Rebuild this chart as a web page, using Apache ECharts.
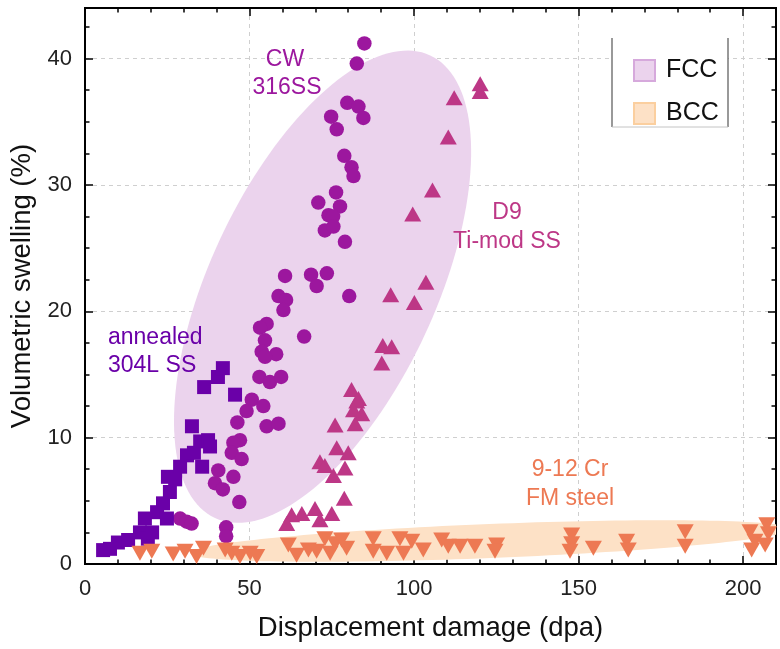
<!DOCTYPE html>
<html>
<head>
<meta charset="utf-8">
<script src="https://cdn.jsdelivr.net/npm/echarts@6/dist/echarts.min.js"></script>
<style>
  html, body { margin: 0; padding: 0; background: #fff; }
  #chart { width: 780px; height: 649px; }
</style>
</head>
<body>
<div id="chart"></div>
<script>
// Annealed 304L SS (squares)
const annealedX = [5.5, 7.6, 10.0, 13.1, 16.7, 19.1, 20.4, 18.2, 21.9, 24.9, 23.7, 25.8, 25.2, 27.4, 28.9, 31.0, 33.1, 35.6, 35.0, 37.4, 38.0, 32.5, 36.2, 40.4, 41.9, 45.6];
const annealedY = [1.1, 1.2, 1.7, 1.9, 2.5, 2.0, 2.5, 3.6, 4.1, 3.6, 4.8, 5.7, 6.9, 6.7, 7.7, 8.6, 8.8, 7.7, 9.7, 9.8, 9.3, 10.9, 14.0, 14.8, 15.5, 13.4];

// Cold-worked 316SS (circles)
const cwX = [84.9, 82.6, 79.7, 83.1, 84.6, 74.8, 76.5, 78.8, 81.0, 81.6, 76.3, 70.9, 77.5, 74.0, 75.4, 72.9, 75.5, 79.0, 60.8, 68.7, 73.5, 70.4, 80.3, 58.8, 61.1, 60.3, 55.2, 53.2, 54.7, 66.6, 53.7, 58.1, 54.7, 53.0, 56.2, 59.6, 50.7, 49.1, 54.2, 46.3, 55.2, 58.8, 47.1, 45.1, 44.6, 47.6, 40.5, 45.1, 39.5, 41.9, 46.9, 42.9, 42.9, 28.9, 30.9, 32.4];
const cwY = [41.2, 39.6, 36.5, 36.2, 35.3, 35.4, 34.4, 32.3, 31.4, 30.7, 29.4, 28.6, 28.3, 27.6, 27.5, 26.4, 26.7, 25.5, 22.8, 22.9, 23.0, 22.0, 21.2, 21.2, 20.9, 20.1, 19.0, 18.7, 17.7, 18.0, 16.8, 16.6, 16.4, 14.8, 14.4, 14.8, 13.0, 12.1, 12.5, 11.2, 10.9, 11.1, 9.8, 9.6, 8.8, 8.3, 7.4, 6.9, 6.4, 5.9, 4.9, 2.9, 2.2, 3.6, 3.35, 3.2];

// D9 Ti-modified SS (up triangles)
const d9X = [120.1, 120.1, 112.2, 110.4, 105.6, 99.6, 103.6, 92.9, 100.1, 93.2, 90.5, 90.2, 81.0, 83.1, 82.6, 84.1, 81.6, 82.1, 76.0, 76.5, 80.0, 71.4, 72.9, 79.0, 75.5, 78.8, 69.9, 75.0, 65.9, 62.8, 71.4, 61.3];
const d9Y = [38.0, 37.4, 36.9, 33.8, 29.6, 27.7, 22.3, 21.3, 20.7, 17.2, 17.3, 15.9, 13.8, 13.1, 12.9, 11.9, 12.2, 11.1, 11.0, 9.2, 8.8, 8.1, 7.8, 7.6, 7.0, 5.2, 4.4, 4.0, 4.0, 3.9, 3.5, 3.2];

// 9-12 Cr ferritic-martensitic steel (down triangles)
const fmX = [16.7, 20.3, 26.8, 30.4, 33.9, 36.0, 42.6, 44.6, 47.1, 50.2, 52.2, 61.8, 64.3, 67.9, 70.4, 72.9, 74.5, 76.0, 78.0, 79.5, 87.6, 87.6, 91.7, 95.7, 96.8, 99.3, 102.8, 108.4, 110.4, 114.0, 118.5, 125.1, 124.6, 147.9, 147.9, 147.4, 154.5, 164.6, 165.1, 182.4, 182.4, 202.1, 202.6, 203.6, 207.2, 207.7, 206.7];
const fmY = [0.85, 1.0, 0.8, 1.0, 0.6, 1.25, 1.1, 0.85, 0.6, 0.85, 0.6, 1.5, 0.7, 1.1, 1.0, 2.0, 0.85, 1.6, 1.9, 1.25, 2.0, 1.0, 0.85, 2.0, 0.85, 1.8, 1.1, 1.9, 1.4, 1.4, 1.4, 1.5, 1.0, 2.3, 1.6, 1.0, 1.25, 1.8, 1.1, 2.55, 1.4, 2.55, 1.1, 1.8, 3.1, 2.4, 1.5];

// Envelope ellipses: major-axis end points in data units [x1, y1, x2, y2]
const fccAxis = [39.5, 3.64, 104.9, 40.25];
const bccAxis = [31.9, 0.87, 214.3, 2.77];

const xTicks = { min: 0, max: 210, major: 50, minor: 10 };
const yTicks = { min: 0, max: 44, major: 10, minor: 2.5 };

const FONT = '"Liberation Sans", Arial, sans-serif';
const zip = (xs, ys) => xs.map((x, i) => [x, ys[i]]);

// Draws an ellipse whose long axis joins two data points; half-width in pixels
function ellipseRenderer(halfWidth) {
  return function (params, api) {
    const p1 = api.coord([api.value(0), api.value(1)]);
    const p2 = api.coord([api.value(2), api.value(3)]);
    const cx = (p1[0] + p2[0]) / 2, cy = (p1[1] + p2[1]) / 2;
    const dx = (p2[0] - p1[0]) / 2, dy = (p2[1] - p1[1]) / 2;
    const a = Math.hypot(dx, dy);
    const ux = dx / a, uy = dy / a;
    const vx = -uy, vy = ux;
    const pts = [];
    const n = 160;
    for (let i = 0; i < n; i++) {
      const t = (i / n) * Math.PI * 2;
      const c = Math.cos(t) * a, s = Math.sin(t) * halfWidth;
      pts.push([cx + ux * c + vx * s, cy + uy * c + vy * s]);
    }
    return { type: 'polygon', shape: { points: pts }, style: { fill: api.visual('color') } };
  };
}

const frameLine = { show: true, onZero: false, lineStyle: { color: '#000', width: 2 } };
const tickStyle = { color: '#000', width: 1.5 };

function xAxisPair(position, withLabels) {
  const major = {
    type: 'value', position, min: xTicks.min, max: xTicks.max, interval: xTicks.major,
    axisLine: frameLine,
    axisTick: { show: true, inside: true, length: 8, lineStyle: tickStyle },
    axisLabel: { show: withLabels, fontSize: 22, color: '#222', margin: 14, showMaxLabel: false, fontFamily: FONT },
    splitLine: { show: withLabels, lineStyle: { type: [4, 4], color: '#cfcfcf', width: 1 } }
  };
  if (withLabels) {
    Object.assign(major, {
      name: 'Displacement damage (dpa)', nameLocation: 'middle', nameGap: 50,
      nameTextStyle: { fontSize: 27.5, color: '#111', fontFamily: FONT }
    });
  }
  const minor = {
    type: 'value', position, min: xTicks.min, max: xTicks.max, interval: xTicks.minor,
    axisLine: frameLine,
    axisTick: { show: true, inside: true, length: 4.5, lineStyle: tickStyle },
    axisLabel: { show: false }, splitLine: { show: false }
  };
  return [major, minor];
}

function yAxisPair(position, withLabels) {
  const major = {
    type: 'value', position, min: yTicks.min, max: yTicks.max, interval: yTicks.major,
    axisLine: frameLine,
    axisTick: { show: true, inside: true, length: 8, lineStyle: tickStyle },
    axisLabel: { show: withLabels, fontSize: 22, color: '#222', margin: 13, showMaxLabel: false, fontFamily: FONT },
    splitLine: { show: withLabels, lineStyle: { type: [4, 4], color: '#cfcfcf', width: 1 } }
  };
  if (withLabels) {
    Object.assign(major, {
      name: 'Volumetric swelling (%)', nameLocation: 'middle', nameGap: 45, nameRotate: 90,
      nameTextStyle: { fontSize: 27.5, color: '#111', fontFamily: FONT }
    });
  }
  const minor = {
    type: 'value', position, min: yTicks.min, max: yTicks.max, interval: yTicks.minor,
    axisLine: frameLine,
    axisTick: { show: true, inside: true, length: 4.5, lineStyle: tickStyle },
    axisLabel: { show: false }, splitLine: { show: false }
  };
  return [major, minor];
}

function label(text, x, y, color, align) {
  return {
    type: 'text', x, y, z: 50,
    style: { text, fill: color, fontSize: 23, fontFamily: FONT, align: align || 'center', verticalAlign: 'middle' }
  };
}

const chart = echarts.init(document.getElementById('chart'), null, { renderer: 'canvas' });

chart.setOption({
  animation: false,
  backgroundColor: '#fff',
  grid: { left: 85, right: 4, top: 8, bottom: 85, containLabel: false },
  xAxis: [...xAxisPair('bottom', true), ...xAxisPair('top', false)],
  yAxis: [...yAxisPair('left', true), ...yAxisPair('right', false)],
  legend: {
    data: [{ name: 'FCC', icon: 'rect' }, { name: 'BCC', icon: 'rect' }],
    orient: 'vertical', left: 628, top: 53, itemWidth: 21, itemHeight: 21, itemGap: 18,
    selectedMode: false, z: 60,
    textStyle: { fontSize: 25, color: '#111', fontFamily: FONT, padding: [0, 0, 0, 6] }
  },
  graphic: [
    { type: 'rect', shape: { x: 612, y: 38, width: 116, height: 89 }, style: { fill: '#fff' }, z: 40 },
    { type: 'line', shape: { x1: 612, y1: 38, x2: 612, y2: 127 }, style: { stroke: '#555', lineWidth: 1.2 }, z: 41 },
    { type: 'line', shape: { x1: 728, y1: 38, x2: 728, y2: 127 }, style: { stroke: '#555', lineWidth: 1.2 }, z: 41 },
    { type: 'line', shape: { x1: 612, y1: 127, x2: 728, y2: 127 }, style: { stroke: '#c4c4c4', lineWidth: 1 }, z: 41 },
    label('CW', 285, 60, '#9c179e'),
    label('316SS', 287, 88, '#9c179e'),
    label('D9', 507, 213, '#bd3786'),
    label('Ti-mod SS', 507, 242, '#bd3786'),
    label('annealed', 108, 338, '#6a00a8', 'left'),
    label('304L SS', 108, 366, '#6a00a8', 'left'),
    label('9-12 Cr', 570, 470, '#ed7953'),
    label('FM steel', 570, 499, '#ed7953')
  ],
  series: [
    {
      type: 'custom', name: 'FCC', coordinateSystem: 'cartesian2d', clip: true, z: 1,
      renderItem: ellipseRenderer(113),
      encode: { x: [0, 2], y: [1, 3] },
      itemStyle: { color: '#ebd3ed', borderColor: '#d6a9dc', borderWidth: 2 },
      data: [fccAxis]
    },
    {
      type: 'custom', name: 'BCC', coordinateSystem: 'cartesian2d', clip: true, z: 1,
      renderItem: ellipseRenderer(17),
      encode: { x: [0, 2], y: [1, 3] },
      itemStyle: { color: '#fde1c6', borderColor: '#fbcf9f', borderWidth: 2 },
      data: [bccAxis]
    },
    {
      type: 'scatter', name: 'CW 316SS', z: 3, symbol: 'circle', symbolSize: 14.5,
      itemStyle: { color: '#9c179e', opacity: 1 }, data: zip(cwX, cwY)
    },
    {
      type: 'scatter', name: 'annealed 304L SS', z: 3, symbol: 'rect', symbolSize: 14,
      itemStyle: { color: '#6a00a8', opacity: 1 }, data: zip(annealedX, annealedY)
    },
    {
      type: 'scatter', name: 'D9 Ti-mod SS', z: 3, symbol: 'triangle', symbolSize: [17, 15],
      itemStyle: { color: '#bd3786', opacity: 1 }, data: zip(d9X, d9Y)
    },
    {
      type: 'scatter', name: '9-12 Cr FM steel', z: 3, symbol: 'triangle', symbolRotate: 180, symbolSize: [17, 15],
      itemStyle: { color: '#ed7953', opacity: 1 }, data: zip(fmX, fmY)
    }
  ]
});
</script>
</body>
</html>
